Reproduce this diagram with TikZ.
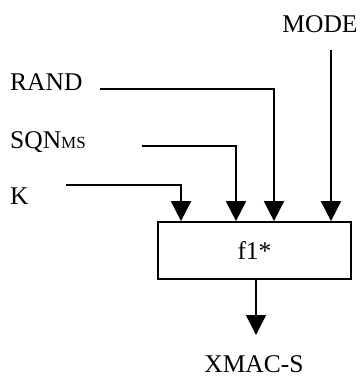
\documentclass[tikz,border=0pt]{standalone}
\usepackage{fontspec}
\setmainfont{Liberation Serif}
\usetikzlibrary{arrows.meta}
\begin{document}
\begin{tikzpicture}[x=1pt,y=-1pt,
  lbl/.style={inner sep=0pt,font=\fontsize{25.5}{30}\selectfont},
  wire/.style={line width=1.7pt},
  arr/.style={wire,-{Triangle[length=20pt,width=20pt]}},
  fbox/.style={draw,line width=1.7pt,minimum width=193pt,minimum height=57pt,inner sep=0pt,font=\fontsize{25.5}{30}\selectfont}]
\useasboundingbox (0,0) rectangle (361,376);
\node[fbox] (f) at (254.5,250.5) {f1*};
\node[lbl,anchor=base] (mode) at (320,32) {MODE};
\node[lbl,anchor=base west] (rand) at (10,90) {RAND};
\node[lbl,anchor=base west] (sqn) at (10,148) {SQN{\fontsize{17}{20}\selectfont MS}};
\node[lbl,anchor=base west] (k) at (10,204) {K};
\node[lbl,anchor=base] (xmac) at (254,372) {XMAC-S};
\coordinate (mstart) at (331,50);
\coordinate (rstart) at (100,89);
\coordinate (sstart) at (142,146);
\coordinate (kstart) at (66,185);
\coordinate (rin) at (274,0);
\coordinate (sin) at (236,0);
\coordinate (kin) at (181,0);
\coordinate (oend) at (256,335);
\draw[arr] (mstart) -- (mstart |- f.north);
\draw[arr] (rstart) -| (rin |- f.north);
\draw[arr] (sstart) -| (sin |- f.north);
\draw[arr] (kstart) -| (kin |- f.north);
\draw[arr] (oend |- f.south) -- (oend);
\end{tikzpicture}
\end{document}
